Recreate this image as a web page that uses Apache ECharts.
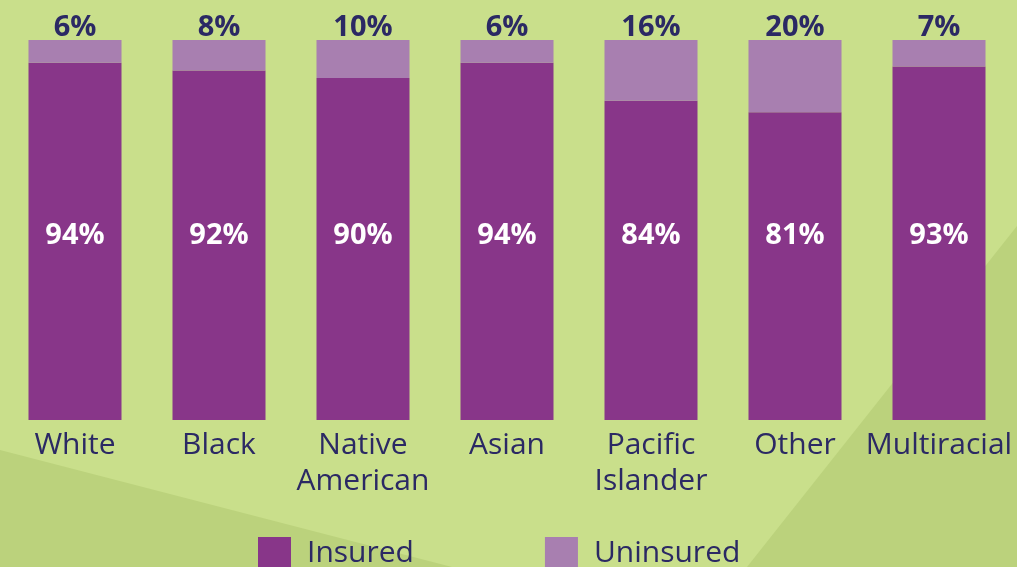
<!DOCTYPE html>
<html>
<head>
<meta charset="utf-8">
<script src="https://cdn.jsdelivr.net/npm/echarts@6/dist/echarts.min.js"></script>
<style>
  html, body { margin: 0; padding: 0; }
  #chart { width: 1017px; height: 567px; }
</style>
</head>
<body>
<div id="chart"></div>
<script>
  const categories = ['White', 'Black', 'Native\nAmerican', 'Asian', 'Pacific\nIslander', 'Other', 'Multiracial'];
  const insured = [94, 92, 90, 94, 84, 81, 93];
  const uninsured = [6, 8, 10, 6, 16, 20, 7];

  const navy = '#2b2964';
  const font = '"Open Sans", "Noto Sans", sans-serif';

  const chart = echarts.init(document.getElementById('chart'));

  chart.setOption({
    backgroundColor: '#c9df8b',
    textStyle: { fontFamily: font },
    graphic: [
      // darker green diagonals in the background
      {
        type: 'polygon', z: -10, silent: true,
        shape: { points: [[0, 450], [452, 567], [0, 567]] },
        style: { fill: '#bbd27c' },
      },
      {
        type: 'polygon', z: -10, silent: true,
        shape: { points: [[747, 567], [1017, 226], [1017, 567]] },
        style: { fill: '#bbd27c' },
      },
    ],
    legend: {
      data: ['Insured', 'Uninsured'],
      left: 258,
      top: 537,
      padding: 0,
      itemWidth: 33,
      itemHeight: 33,
      itemGap: 131,
      icon: 'rect',
      textStyle: {
        color: navy,
        fontSize: 30,
        fontFamily: font,
        padding: [0, 0, 0, 11],
      },
    },
    grid: {
      left: 3,
      right: 6,
      top: 40,
      bottom: 147,
    },
    xAxis: {
      type: 'category',
      data: categories,
      axisLine: { show: false },
      axisTick: { show: false },
      axisLabel: {
        color: navy,
        fontSize: 30,
        lineHeight: 36,
        margin: 7,
        fontFamily: font,
        interval: 0,
      },
    },
    yAxis: {
      type: 'value',
      min: 0,
      max: 100,
      show: false,
      splitLine: { show: false },
    },
    series: [
      {
        name: 'Insured',
        type: 'bar',
        stack: 'total',
        barWidth: 93,
        itemStyle: { color: '#883689' },
        label: {
          show: true,
          position: 'insideBottom',
          distance: 169,
          color: '#ffffff',
          fontSize: 29,
          fontWeight: 'bold',
          lineHeight: 30,
          fontFamily: font,
          formatter: p => p.value + '%',
        },
        data: insured,
      },
      {
        name: 'Uninsured',
        type: 'bar',
        stack: 'total',
        barWidth: 93,
        itemStyle: { color: '#a87fb0' },
        label: {
          show: true,
          position: 'top',
          distance: -3,
          color: navy,
          fontSize: 29,
          fontWeight: 'bold',
          lineHeight: 30,
          fontFamily: font,
          formatter: p => p.value + '%',
        },
        data: uninsured,
      },
    ],
  });
</script>
</body>
</html>
